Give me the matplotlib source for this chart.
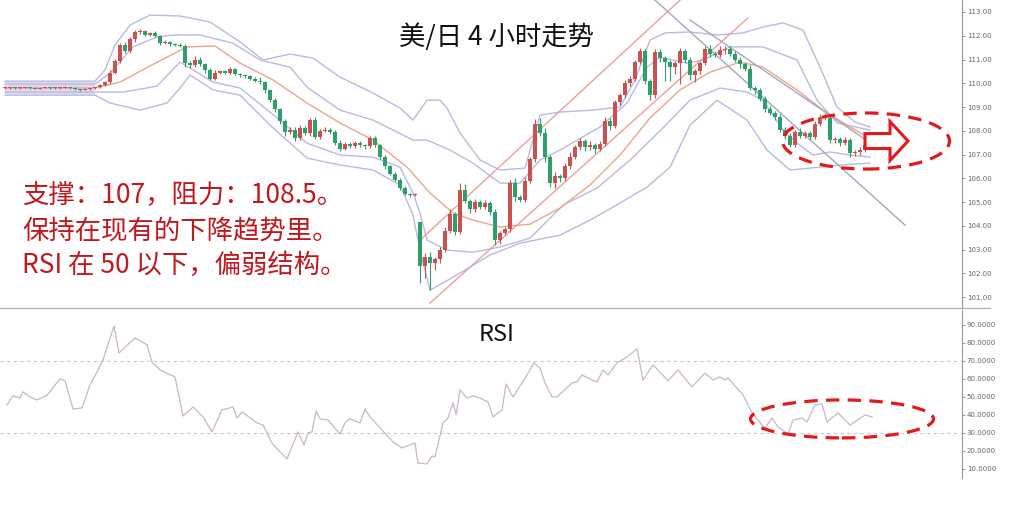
import matplotlib.pyplot as plt
from matplotlib.patches import Ellipse, FancyArrow

plt.rcParams['font.family'] = ['Noto Sans CJK SC', 'DejaVu Sans']

# 4小时K线（收盘价），开盘价取前一根收盘价
closes = [
    109.80, 109.82, 109.79, 109.81, 109.83, 109.80, 109.78, 109.81, 109.82, 109.80,
    109.79, 109.82, 109.84, 109.80, 109.74, 109.72, 109.76, 109.79, 109.83,
    109.92, 110.05, 110.45, 110.95, 111.60, 111.35, 111.85, 112.15, 112.20, 112.05,
    112.10, 112.00, 111.70, 111.75, 111.65, 111.62, 111.55,
    110.85, 110.75, 111.00, 110.80, 110.55, 110.20, 110.45, 110.50, 110.45, 110.60,
    110.40, 110.35, 110.30, 110.20, 110.10, 110.05, 109.70, 109.30,
    108.90, 108.40, 107.95, 108.05, 107.70, 108.10, 107.90, 108.45, 107.75, 108.00,
    108.05, 107.95, 107.50, 107.25, 107.45, 107.35, 107.50, 107.40, 107.35, 107.70,
    107.40, 106.90, 106.50, 106.20, 105.95, 105.60, 105.35, 105.30, 105.30,
    102.30, 102.70, 102.45, 102.60, 103.00, 103.80, 104.50, 103.75, 105.50, 105.05,
    104.70, 105.00, 104.80, 104.95, 104.60, 103.40, 103.70, 103.85, 105.80, 105.20,
    105.10, 105.90, 106.80, 108.30, 107.90, 106.90, 105.80, 106.10, 106.00, 106.50,
    106.90,
    107.30, 107.55, 107.30, 107.40, 107.25, 107.45, 108.40, 108.20, 109.20, 109.50,
    110.00, 110.20, 110.90, 111.35, 110.10, 109.50, 111.30, 111.05, 110.90, 110.70,
    110.85, 111.35, 111.00, 110.35, 110.50, 110.85, 111.45, 111.25, 111.20, 111.40,
    111.45, 111.25,
    111.00, 110.80, 110.60, 109.80, 109.70, 109.35, 108.90, 108.75, 108.60, 108.05,
    107.80, 107.40, 107.95, 107.80, 107.90, 107.75, 108.30, 108.60, 108.55, 107.60,
    107.65, 107.50, 107.60, 107.05, 107.10, 107.20, 107.40, 107.35,
]
first_open = 109.79
gap_opens = {83: 104.15}

wick_up = [
    0.03, 0.02, 0.03, 0.02, 0.03, 0.02, 0.03, 0.02, 0.03, 0.02, 0.03, 0.02, 0.03, 0.02,
    0.03, 0.02, 0.03, 0.02, 0.03,
    0.05, 0.06, 0.1, 0.08, 0.1, 0.15, 0.1, 0.08, 0.1, 0.06, 0.05, 0.08, 0.05, 0.06,
    0.05, 0.04, 0.06,
    0.1, 0.08, 0.15, 0.1, 0.06, 0.08, 0.1, 0.06, 0.05, 0.08, 0.06, 0.05, 0.06, 0.05,
    0.08, 0.15, 0.06, 0.08,
    0.1, 0.08, 0.1, 0.12, 0.1, 0.15, 0.1, 0.1, 0.12, 0.08, 0.1, 0.06, 0.08, 0.1, 0.08,
    0.06, 0.08, 0.06, 0.05, 0.1, 0.08, 0.06, 0.1, 0.06, 0.08, 0.05, 0.06, 0.05, 0.1,
    0.0, 0.15, 0.2, 0.1, 0.1, 0.15, 0.2, 0.1, 0.3, 0.25, 0.1, 0.15, 0.1, 0.12, 0.1,
    0.1, 0.1, 0.1, 0.15, 0.2, 0.1, 0.15, 0.1, 0.2, 0.25, 0.2, 0.1, 0.15, 0.1, 0.15, 0.2,
    0.1, 0.15, 0.1, 0.15, 0.1, 0.1, 0.2, 0.15, 0.1, 0.1, 0.15, 0.1, 0.1, 0.15, 0.1,
    0.1, 0.15, 0.15, 0.1, 0.1, 0.1, 0.15, 0.1, 0.1, 0.1, 0.1, 0.1, 0.15, 0.1, 0.15,
    0.1, 0.1,
    0.1, 0.1, 0.1, 0.15, 0.1, 0.1, 0.1, 0.15, 0.1, 0.1, 0.1, 0.1, 0.1, 0.15, 0.1,
    0.1, 0.1, 0.1, 0.15, 0.1, 0.1, 0.1, 0.15, 0.1, 0.1, 0.1, 0.1, 0.05,
]
wick_dn = [
    0.02, 0.03, 0.02, 0.03, 0.02, 0.03, 0.02, 0.03, 0.02, 0.03, 0.02, 0.03, 0.02, 0.03,
    0.02, 0.03, 0.02, 0.03, 0.02,
    0.04, 0.05, 0.06, 0.08, 0.1, 0.08, 0.06, 0.1, 0.08, 0.05, 0.06, 0.05, 0.08, 0.05,
    0.06, 0.05, 0.04,
    0.15, 0.1, 0.08, 0.06, 0.1, 0.08, 0.06, 0.05, 0.08, 0.06, 0.05, 0.08, 0.06, 0.05,
    0.06, 0.08, 0.1, 0.08,
    0.1, 0.12, 0.15, 0.1, 0.15, 0.1, 0.08, 0.1, 0.1, 0.08, 0.06, 0.1, 0.08, 0.12, 0.06,
    0.08, 0.06, 0.08, 0.1, 0.06, 0.1, 0.08, 0.1, 0.06, 0.08, 0.1, 0.06, 0.08, 0.06,
    0.7, 0.5, 1.15, 0.3, 0.15, 0.1, 0.1, 0.15, 0.1, 0.1, 0.15, 0.1, 0.1, 0.1, 0.15,
    0.2, 0.15, 0.1, 0.1, 0.15, 0.1, 0.1, 0.1, 0.1, 0.1, 0.2, 0.15, 0.2, 0.15, 0.1, 0.1,
    0.1, 0.1, 0.15, 0.1, 0.2, 0.1, 0.1, 0.15, 0.1, 0.1, 0.1, 0.1, 0.1, 0.1, 0.15,
    0.2, 0.1, 0.15, 0.8, 0.6, 0.3, 0.9, 0.15, 0.2, 0.3, 0.1, 0.1, 0.15, 0.1, 0.1,
    0.15, 0.1,
    0.1, 0.15, 0.1, 0.1, 0.15, 0.1, 0.1, 0.1, 0.15, 0.1, 0.15, 0.1, 0.1, 0.1, 0.1,
    0.15, 0.1, 0.1, 0.1, 0.1, 0.1, 0.15, 0.1, 0.15, 0.1, 0.1, 0.1, 0.05,
]

# 布林带与均线 (K线序号, 价格)
bb_up2 = [(0, 110.09), (18, 110.09), (20, 110.56), (22, 111.61), (25, 112.45), (29, 112.87),
          (35, 112.83), (41, 112.58), (47, 111.74), (51.6, 110.98), (57, 111.23),
          (61.6, 111.06), (67, 110.26), (73.6, 109.59), (79, 108.96), (81.6, 108.45),
          (83, 108.87), (84.4, 109.29), (87, 109.29), (88.4, 108.96), (91, 107.91),
          (95, 106.77), (99, 106.35), (104, 106.43), (107, 108.66), (111, 108.79),
          (117.6, 108.87), (123, 109.00), (126, 110.14), (129, 111.82), (132, 112.12),
          (137, 112.16), (142.4, 112.03), (147.6, 112.12), (151.6, 112.37), (155.6, 112.54),
          (159.6, 112.24), (163, 110.68), (166.4, 109.00), (170, 108.37), (173, 108.16)]
bb_up1 = [(0, 109.97), (18, 109.97), (21, 110.43), (25.6, 111.53), (30.4, 111.95),
          (33.6, 112.03), (39, 112.03), (45.6, 111.69), (51, 110.98), (57, 110.68),
          (60.4, 109.84), (67, 108.87), (73.6, 108.45), (81.6, 107.61), (84.4, 107.61),
          (89, 107.19), (93.6, 106.64), (99, 105.80), (103, 105.80), (107, 106.77),
          (111, 107.19), (119, 108.16), (124.4, 109.17), (128.4, 110.68), (131, 111.10),
          (136.4, 110.85), (139.6, 110.98), (145, 111.53), (151.6, 111.53), (158.4, 110.98),
          (162.4, 109.29), (166.4, 108.33), (173, 108.03)]
ma_line = [(0, 109.80), (18, 109.80), (23, 110.05), (29, 110.73), (36.4, 111.53), (42, 111.57),
           (47, 110.85), (53.6, 110.14), (60.4, 109.17), (67, 108.33), (73.6, 107.61),
           (80.4, 106.47), (85, 105.38), (89.6, 104.54), (93.6, 104.24), (99, 103.95),
           (105, 104.07), (111, 104.75), (117, 105.72), (123, 106.98), (129, 108.54),
           (135, 109.72), (141, 110.47), (147, 110.89), (151.6, 110.68), (158.4, 109.72),
           (163.6, 108.87), (169, 108.16), (173, 107.69)]
bb_dn1 = [(0, 109.63), (18, 109.63), (23.6, 109.63), (30.4, 109.88), (35, 110.89), (37, 110.64),
          (41.6, 110.05), (47, 109.80), (53, 108.79), (60.4, 107.48), (67, 106.98),
          (73.6, 106.89), (79, 106.47), (81.6, 105.38), (83, 104.54), (84.4, 103.40),
          (88.4, 102.98), (93.6, 102.89), (99, 103.11), (105, 103.48), (111.6, 104.87),
          (118.4, 105.59), (125, 106.77), (131.6, 108.12), (137, 109.29), (143, 109.80),
          (148.4, 109.63), (151.6, 109.29), (155.6, 108.03), (158.4, 107.48), (161.6, 106.98),
          (165, 107.11), (169, 106.98), (173, 106.89)]
bb_dn2 = [(0, 109.50), (18, 109.50), (21, 109.17), (27, 108.87), (32.4, 109.17), (35, 109.80),
          (37, 110.35), (41.6, 109.72), (47, 109.50), (53, 108.24), (60.4, 106.85),
          (67, 106.56), (73.6, 106.35), (79, 105.72), (81.6, 104.45), (83, 102.98),
          (85, 101.29), (89.6, 101.84), (97, 102.77), (103, 103.27), (111, 103.61),
          (117, 104.24), (121.6, 104.79), (128.4, 105.63), (133, 106.47), (137, 108.24),
          (142.4, 109.29), (148.4, 108.45), (152.4, 107.19), (157, 106.35), (161, 106.43),
          (167, 106.56), (173, 106.64)]

# 趋势线
channel_up = [(83, 103.40), (135, 113.50)]
channel_dn = [(85, 100.75), (148.6, 112.75)]
trend_long = [(130, 113.50), (180, 104.03)]
trend_short = [(137, 112.66), (174, 107.36)]

# RSI (K线序号, 数值)
rsi_t = [0.4, 1.6, 3.0, 3.6, 5.0, 6.4, 8.4, 11.0, 12.0, 13.6, 15.4, 17.0, 18.4, 19.6, 21.8,
         22.8, 26.0, 28.4, 29.4, 31.0, 34.0, 35.6, 37.6, 39.6, 41.4, 43.4, 45.6, 46.4, 47.4,
         50.4, 51.6, 53.4, 54.6, 56.4, 58.6, 59.8, 60.6, 61.4, 62.2, 63.0, 64.6, 67.0, 68.0,
         69.0, 71.0, 72.0, 73.0, 75.6, 77.6, 79.4, 82.0, 82.6, 84.4, 85.4, 86.0, 87.6, 88.6,
         89.6, 90.2, 91.0, 92.4, 93.6, 95.0, 96.6, 97.6, 99.4, 100.2, 101.6, 104.4, 105.8,
         107.0, 108.0, 109.4, 110.4, 113.4, 114.4, 115.4, 117.4, 118.4, 119.6, 120.6, 122.4,
         124.4, 126.4, 127.6, 129.6, 132.6, 134.6, 137.4, 140.0, 141.6, 143.0, 144.0, 144.6,
         147.6, 149.4, 151.4, 152.0, 153.4, 154.6, 156.6, 157.6, 159.4, 160.4, 162.0, 163.4,
         164.4, 166.6, 169.0, 172.0, 173.4]
rsi_v = [45.6, 50.6, 49.4, 52.8, 50.0, 48.3, 51.0, 60.0, 59.0, 43.3, 43.9, 56.7, 63.9, 70.6, 89.4,
         74.4, 82.8, 78.9, 69.4, 65.0, 61.1, 39.4, 44.4, 38.9, 30.6, 42.8, 44.4, 38.3, 41.7,
         35.6, 34.4, 24.4, 20.6, 15.6, 30.6, 23.3, 30.0, 30.6, 42.2, 37.8, 37.2, 29.4, 35.6,
         37.8, 35.6, 43.3, 38.9, 31.1, 25.0, 21.7, 24.4, 13.3, 12.8, 17.2, 16.7, 35.6, 38.3,
         46.7, 40.0, 53.9, 49.4, 50.6, 49.4, 47.2, 38.9, 42.8, 57.2, 50.0, 62.2, 68.9,
         66.1, 57.8, 50.0, 50.0, 57.8, 58.3, 62.2, 59.4, 58.3, 65.0, 62.2, 68.9,
         72.2, 76.7, 59.4, 67.8, 59.0, 65.0, 55.6, 63.3, 59.4, 61.1, 59.4, 60.6,
         51.1, 41.1, 34.4, 32.8, 38.3, 33.3, 29.4, 37.2, 38.3, 36.1, 45.6, 46.1,
         36.1, 41.1, 34.4, 40.0, 38.9]

price_ticks = [101, 102, 103, 104, 105, 106, 107, 108, 109, 110, 111, 112, 113]
rsi_ticks = [10, 20, 30, 40, 50, 60, 70, 80, 90]
rsi_levels = [70, 30]

title = '美/日 4 小时走势'
notes = ['支撑：107，阻力：108.5。', '保持在现有的下降趋势里。', 'RSI 在 50 以下，偏弱结构。']

UP_C = '#c9514f'
DN_C = '#2f9e6a'
BAND_C = '#b7bbe2'
MARK_C = '#e3191c'

fig = plt.figure(figsize=(10.1, 5.05), dpi=100)
ax = fig.add_axes([0, 0.390, 0.9525, 0.610])
ax_rsi = fig.add_axes([0, 0.0535, 0.9525, 0.3327])

# --- K线 ---
opens = [first_open] + closes[:-1]
for k, v in gap_opens.items():
    opens[k] = v
idx = list(range(len(closes)))
colors = [UP_C if c >= o else DN_C for o, c in zip(opens, closes)]
bottoms = [min(o, c) for o, c in zip(opens, closes)]
heights = [max(abs(c - o), 0.04) for o, c in zip(opens, closes)]
highs = [max(o, c) + w for o, c, w in zip(opens, closes, wick_up)]
lows = [min(o, c) - w for o, c, w in zip(opens, closes, wick_dn)]

ax.fill_between([p[0] for p in bb_up2[:2]], [p[1] for p in bb_up2[:2]],
                [p[1] for p in bb_dn2[:2]], color='#e4d8f0', lw=0, zorder=0)
for line in (bb_up2, bb_up1, bb_dn1, bb_dn2):
    ax.plot([p[0] for p in line], [p[1] for p in line], color=BAND_C, lw=1.0, zorder=1)
ax.plot([p[0] for p in ma_line], [p[1] for p in ma_line], color='#eba58f', lw=1.0, zorder=1)
for line in (channel_up, channel_dn):
    ax.plot([p[0] for p in line], [p[1] for p in line], color='#eba09a', lw=1.0, zorder=1)
for line in (trend_long, trend_short):
    ax.plot([p[0] for p in line], [p[1] for p in line], color='#a3a8bd', lw=1.0, zorder=1)

ax.vlines(idx, lows, highs, colors=colors, lw=0.8, zorder=2)
ax.bar(idx, heights, bottom=bottoms, width=0.7, color=colors, lw=0, zorder=3)

ax.add_patch(Ellipse((172.2, 107.57), 33.4, 2.36, fill=False, ec=MARK_C, lw=2.3,
                     ls=(0, (4.2, 2.6)), zorder=6, clip_on=False))
ax.add_patch(FancyArrow(172, 107.57, 8.6, 0, width=0.63, head_width=1.64, head_length=3.6,
                        length_includes_head=True, fc='white', ec=MARK_C, lw=2.2, zorder=5))

ax.set_xlim(-1, 191.4)
ax.set_ylim(100.54, 113.505)

# --- RSI ---
for lv in rsi_levels:
    ax_rsi.axhline(lv, color='#c8c8c8', lw=0.8, ls=(0, (3, 3)), zorder=0)
ax_rsi.plot(rsi_t, rsi_v, color='#cbb5cb', lw=0.9, zorder=2)
ax_rsi.add_patch(Ellipse((167.4, 37.8), 36.6, 21.1, fill=False, ec=MARK_C, lw=2.3,
                         ls=(0, (4.2, 2.6)), zorder=6, clip_on=False))
ax_rsi.set_xlim(-1, 191.4)
ax_rsi.set_ylim(5.0, 98.3)

for a, ticks, fmt in ((ax, price_ticks, '{:.2f}'), (ax_rsi, rsi_ticks, '{:.4f}')):
    a.set_xticks([])
    a.set_yticks(ticks)
    a.set_yticklabels([fmt.format(t) for t in ticks], family='DejaVu Sans')
    a.yaxis.tick_right()
    a.tick_params(axis='y', direction='out', length=2, width=0.6, pad=1.5,
                  labelsize=5, colors='#888888', labelcolor='#666666')
    for s in ('left', 'top', 'bottom'):
        a.spines[s].set_visible(False)
    a.spines['right'].set_color('#999999')
    a.spines['right'].set_linewidth(0.8)
    a.patch.set_alpha(0)

# 分隔线
ax.plot([0, 990 / 962], [0, 0], transform=ax.transAxes, color='#b0b0b0', lw=0.9, clip_on=False)

fig.text(0.492, 0.927, title, ha='center', va='center', fontsize=19, color='#111111')
fig.text(0.492, 0.337, 'RSI', ha='center', va='center', fontsize=17, color='#111111')
for txt, y in zip(notes, (195, 231, 265)):
    fig.text(22 / 1010, 1 - y / 505, txt, ha='left', va='center', fontsize=19, color='#c0181d')

plt.savefig('out.png', dpi=100)
plt.close()
